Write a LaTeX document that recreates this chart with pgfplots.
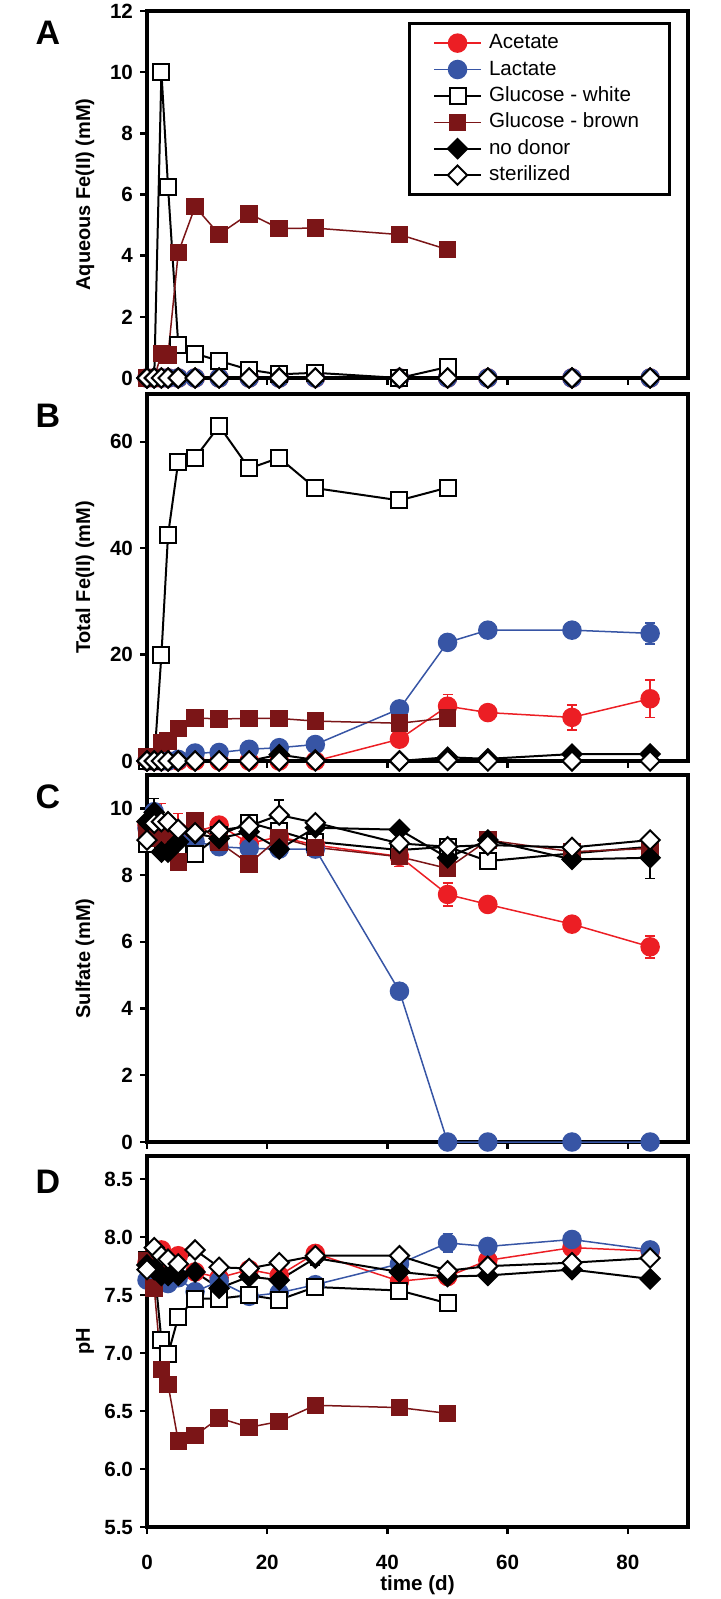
\documentclass[border=0pt]{standalone}
\usepackage{fontspec}
\setmainfont{Liberation Sans}
\usepackage{pgfplots}
\pgfplotsset{compat=1.18}
\usepackage{pgfplotstable}
\definecolor{acred}{RGB}{236,30,36}
\definecolor{lablue}{RGB}{55,85,165}
\definecolor{brn}{RGB}{123,21,23}

\pgfplotstableread{
t    ac   la   wh    br    nd   st
0    0    0    0     0     0    0
1.2  0    0    0     0     0    0
2.4  0    0    10.0  0.8   0    0
3.5  0    0    6.25  0.75  0    0
5.2  0    0    1.08  4.1   0    0
8    0    0    0.8   5.6   0    0
12   0    0    0.56  4.7   0    0
17   0    0    0.27  5.37  0    0
22   0    0    0.12  4.89  0    0
28   0    0    0.17  4.9   0    0
42   0    0    0.0   4.69  0    0
50   0    0    0.36  4.2   0    0
56.7 0    0    nan   nan   0    0
70.7 0    0    nan   nan   0    0
83.7 0    0    nan   nan   0    0
}\tA

\pgfplotstableread{
t    ac   la   wh    br    nd   st
0    0    0    0     0.8   0    0
1.2  0    0    0     0.8   0    0
2.4  0    0    20    3.4   0    0
3.5  0    0    42.5  3.8   0    0
5.2  0    0.3  56.3  6.1   0    0
8    0    1.5  57    8.1   0    0
12   0    1.6  63    7.9   0    0
17   0    2.2  55    8.0   0    0
22   0    2.5  57    8.0   1.2  0
28   0    3.1  51.3  7.5   0.2  0
42   4.1  9.8  49    7.1   0    0
50   10.3 22.3 51.4  8.1   0.7  0.1
56.7 9.1  24.6 nan   nan   0.4  0
70.7 8.2  24.6 nan   nan   1.3  0
83.7 11.7 24.0 nan   nan   1.3  0
}\tB

\pgfplotstableread{
t    ac   la   wh    br    nd   st
0    9.5  9.4  8.93  9.3   9.6  9.05
1.2  9.6  9.9  9.1   9.1   9.88 9.55
2.4  9.55 9.5  9.2   9.15  8.69 9.6
3.5  9.45 9.2  8.9   9.1   8.69 9.6
5.2  9.3  9.0  8.7   8.4   9.0  9.37
8    9.3  9.0  8.62  9.62  9.25 9.27
12   9.5  8.85 9.2   8.98  9.1  9.34
17   8.95 8.8  9.57  8.34  9.3  9.47
22   9.15 8.78 9.32  9.13  8.78 9.8
28   8.9  8.78 9.0   8.83  9.42 9.57
42   8.56 4.52 8.75  8.55  9.36 8.95
50   7.42 0    8.85  8.2   8.52 8.85
56.7 7.12 0    8.42  9.05  9.05 8.9
70.7 6.53 0    8.65  8.7   8.47 8.83
83.7 5.85 0    8.85  8.8   8.52 9.05
}\tC

\pgfplotstableread{
t    ac   la   wh    br    nd   st
0    7.78 7.63 7.8   7.8   7.76 7.72
1.2  7.85 7.65 7.75  7.56  7.72 7.91
2.4  7.89 7.65 7.11  6.86  7.67 7.84
3.5  7.8  7.6  6.99  6.73  7.67 7.81
5.2  7.84 7.65 7.31  6.24  7.67 7.77
8    7.7  7.53 7.47  6.29  7.7  7.89
12   7.65 7.62 7.47  6.44  7.56 7.74
17   7.72 7.49 7.5   6.36  7.66 7.73
22   7.67 7.52 7.46  6.41  7.63 7.78
28   7.86 7.59 7.57  6.55  7.82 7.84
42   7.62 7.77 7.54  6.53  7.7  7.84
50   7.66 7.95 7.43  6.48  7.66 7.71
56.7 7.8  7.92 nan   nan   7.67 7.75
70.7 7.91 7.98 nan   nan   7.72 7.78
83.7 7.88 7.89 nan   nan   7.64 7.82
}\tD

\tikzset{letter/.style={font=\fontsize{17}{19}\selectfont\bfseries}}

\pgfplotsset{
  panel/.style={
    scale only axis, width=270.5pt, height=183.5pt,
    xmin=0, xmax=90, anchor=north west, clip=false,
    axis line style={line width=1.6pt},
    xtick={0,20,40,60,80}, xtick pos=left, ytick pos=left,
    tick align=outside, major tick length=3.5pt,
    tick style={line width=1.2pt, black},
    /pgf/number format/assume math mode=true,
    ticklabel style={font=\fontsize{10.3}{12}\selectfont\bfseries},
    ylabel style={font=\fontsize{10}{12}\selectfont\bfseries,
      at={(axis description cs:-0.1146,0.5)}, anchor=center},
    legend image code/.code={\draw[mark repeat=2,mark phase=2]
      plot coordinates {(0pt,0pt) (11.75pt,0pt) (23.5pt,0pt)};},
  },
  sac/.style={color=acred, line width=0.75pt, mark=*, mark size=4.5pt,
    mark options={fill=acred, draw=acred}},
  sla/.style={color=lablue, line width=0.75pt, mark=*, mark size=4.5pt,
    mark options={fill=lablue, draw=lablue}},
  swh/.style={color=black, line width=1pt, mark=square*, mark size=4pt,
    mark options={fill=white, draw=black}},
  sbr/.style={color=brn, line width=0.75pt, mark=square*, mark size=4pt,
    mark options={fill=brn, draw=brn}},
  snd/.style={color=black, line width=1pt, mark=square*, mark size=3.4pt,
    mark options={fill=black, draw=black, rotate=45}},
  sst/.style={color=black, line width=1pt, mark=square*, mark size=3.4pt,
    mark options={fill=white, draw=black, rotate=45}},
  errb/.style={forget plot, only marks, mark=none,
    error bars/.cd, y dir=both, y explicit,
    error bar style={line width=0.8pt, draw=#1},
    error mark options={rotate=90, mark size=2.5pt, line width=0.8pt, draw=#1}},
}

\begin{document}
\begin{tikzpicture}
\useasboundingbox (0,0) rectangle (360.5pt,-799.5pt);

% ---------- Panel A ----------
\begin{axis}[panel, at={(73.5pt,-5.5pt)},
  ymin=0, ymax=12, ytick={0,2,4,6,8,10,12}, xticklabels={},
  ylabel={Aqueous Fe(II) (mM)},
  legend style={at={(0.969,0.97)}, anchor=north east, draw=black,
    line width=1.6pt, fill=white, font=\fontsize{10.3}{12}\selectfont,
    cells={anchor=west}, row sep=0.3pt, inner xsep=11.8pt, inner ysep=3.3pt,
    nodes={inner ysep=1.5pt, inner xsep=3.5pt, text height=7.7pt, text depth=2.2pt}},
]
\addplot[sac] table[x=t,y=ac] {\tA};
\addplot[sla] table[x=t,y=la] {\tA};
\addplot[swh] table[x=t,y=wh] {\tA};
\addplot[sbr] table[x=t,y=br] {\tA};
\addplot[snd] table[x=t,y=nd] {\tA};
\addplot[sst] table[x=t,y=st] {\tA};
\legend{Acetate, Lactate, Glucose - white, Glucose - brown, no donor, sterilized}
\node[letter] at (axis description cs:-0.183,0.94) {A};
\end{axis}

% ---------- Panel B ----------
\begin{axis}[panel, at={(73.5pt,-197pt)},
  ymin=0, ymax=69, ytick={0,20,40,60}, xticklabels={},
  ylabel={Total Fe(II) (mM)},
]
\addplot[errb=acred] coordinates {(50,10.3) +- (0,2.2) (70.7,8.2) +- (0,2.35) (83.7,11.7) +- (0,3.55)};
\addplot[errb=lablue] coordinates {(83.7,24.0) +- (0,2.0)};
\addplot[sac] table[x=t,y=ac] {\tB};
\addplot[sla] table[x=t,y=la] {\tB};
\addplot[swh] table[x=t,y=wh] {\tB};
\addplot[sbr] table[x=t,y=br] {\tB};
\addplot[snd] table[x=t,y=nd] {\tB};
\addplot[sst] table[x=t,y=st] {\tB};
\node[letter] at (axis description cs:-0.183,0.94) {B};
\end{axis}

% ---------- Panel C ----------
\begin{axis}[panel, at={(73.5pt,-387.5pt)},
  ymin=0, ymax=11, ytick={0,2,4,6,8,10}, xticklabels={},
  ylabel={Sulfate (mM)},
]
\addplot[errb=acred] coordinates {(2.4,9.55) +- (0,0.6) (5.2,9.3) +- (0,0.55) (42,8.56) +- (0,0.3) (50,7.42) +- (0,0.35) (83.7,5.85) +- (0,0.33)};
\addplot[errb=black] coordinates {(1.2,9.88) +- (0,0.42) (83.7,8.52) +- (0,0.62) (22,9.8) +- (0,0.45) (50,8.52) +- (0,0.2)};
\addplot[sac] table[x=t,y=ac] {\tC};
\addplot[sla] table[x=t,y=la] {\tC};
\addplot[swh] table[x=t,y=wh] {\tC};
\addplot[sbr] table[x=t,y=br] {\tC};
\addplot[snd] table[x=t,y=nd] {\tC};
\addplot[sst] table[x=t,y=st] {\tC};
\node[letter] at (axis description cs:-0.183,0.94) {C};
\end{axis}

% ---------- Panel D ----------
\begin{axis}[panel, at={(73.5pt,-578pt)}, height=185.5pt,
  ymin=5.5, ymax=8.7, ytick={5.5,6.0,6.5,7.0,7.5,8.0,8.5},
  yticklabel style={/pgf/number format/.cd, fixed, fixed zerofill, precision=1},
  xticklabel style={yshift=-7pt},
  ylabel={pH},
  xlabel={time (d)},
  xlabel style={font=\fontsize{10.3}{12}\selectfont\bfseries,
    at={(axis description cs:0.5,0)}, yshift=-29pt, anchor=center},
]
\addplot[errb=lablue] coordinates {(50,7.95) +- (0,0.08)};
\addplot[errb=black] coordinates {(28,7.82) +- (0,0.06) (50,7.66) +- (0,0.05)};
\addplot[sac] table[x=t,y=ac] {\tD};
\addplot[sla] table[x=t,y=la] {\tD};
\addplot[swh] table[x=t,y=wh] {\tD};
\addplot[sbr] table[x=t,y=br] {\tD};
\addplot[snd] table[x=t,y=nd] {\tD};
\addplot[sst] table[x=t,y=st] {\tD};
\node[letter] at (axis description cs:-0.183,0.93) {D};
\end{axis}
\end{tikzpicture}
\end{document}
